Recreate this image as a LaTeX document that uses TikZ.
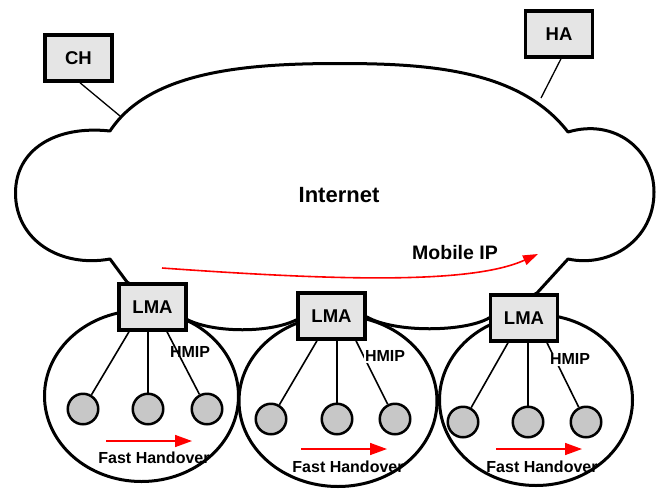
\documentclass[tikz,border=0pt]{standalone}
\usepackage{fontspec}
\setmainfont{Liberation Sans}
\usetikzlibrary{arrows.meta}
\begin{document}
\begin{tikzpicture}[x=1pt, y=-1pt,
    agent/.style={rectangle, draw, line width=3.5pt, fill=black!10, minimum width=67pt, minimum height=46pt, font=\fontsize{18.5}{20}\selectfont\bfseries},
    host/.style={circle, draw, line width=2.5pt, fill=black!22, minimum size=30.5pt, inner sep=0pt},
    cell/.style={draw, line width=3pt},
    cloudline/.style={draw, line width=3pt, line join=round},
    link/.style={line width=1.6pt},
    lbl/.style={font=\fontsize{16}{18}\selectfont\bfseries, inner sep=1pt},
    redarrow/.style={draw=red, line width=1.6pt, -{Triangle[length=17pt, width=12pt]}}
]
    \useasboundingbox (0,0) rectangle (656,491);

    % Internet cloud
    \draw[cloudline] (127,282) -- (110,259)
        .. controls (60,268) and (15.5,240) .. (15.5,193)
        .. controls (15.5,150) and (55,125) .. (110,131)
        .. controls (150,70) and (250,63.5) .. (340,63.5)
        .. controls (430,63.5) and (520,70) .. (568,132)
        .. controls (615,118) and (654,150) .. (654,192)
        .. controls (654,240) and (610,268) .. (568,259)
        -- (537,293) -- (489,318)
        .. controls (465,332) and (395,333) .. (367,317)
        -- (296,320)
        .. controls (270,333) and (215,333) .. (188,320)
        -- cycle;
    \node[font=\fontsize{22}{24}\selectfont\bfseries] (internet) at (339,195) {Internet};

    % Cells
    \draw[cell] (141.5,396) ellipse [x radius=97pt, y radius=85.5pt];
    \draw[cell] (338,401) ellipse [x radius=99pt, y radius=85.5pt];
    \draw[cell] (536,400) ellipse [x radius=96.5pt, y radius=85.5pt];

    % Agents
    \node[agent] (ch) at (78.5,58) {CH};
    \node[agent] (ha) at (559,34) {HA};
    \node[agent] (lma1) at (152.5,307) {LMA};
    \node[agent] (lma2) at (331.5,316) {LMA};
    \node[agent] (lma3) at (524,318) {LMA};

    \coordinate (chlink) at (120,116);
    \coordinate (halink) at (541,98);
    \draw[line width=1.3pt] ([xshift=1.5pt]ch.south) -- (chlink);
    \draw[line width=1.3pt] ([xshift=2pt]ha.south) -- (halink);

    % Mobile nodes
    \node[host] (m11) at (83,409) {};
    \node[host] (m12) at (148,409) {};
    \node[host] (m13) at (207,409) {};
    \node[host] (m21) at (271,419) {};
    \node[host] (m22) at (337,419) {};
    \node[host] (m23) at (395,419) {};
    \node[host] (m31) at (463,422) {};
    \node[host] (m32) at (528,422) {};
    \node[host] (m33) at (586,422) {};

    \draw[link] ([xshift=-23.5pt]lma1.south) -- (m11);
    \draw[link] ([xshift=-4.5pt]lma1.south) -- (m12);
    \draw[link] ([xshift=14.5pt]lma1.south) -- (m13);
    \draw[link] ([xshift=-14.5pt]lma2.south) -- (m21);
    \draw[link] ([xshift=5.5pt]lma2.south) -- (m22);
    \draw[link] ([xshift=24.5pt]lma2.south) -- (m23);
    \draw[link] ([xshift=-16pt]lma3.south) -- (m31);
    \draw[link] ([xshift=4pt]lma3.south) -- (m32);
    \draw[link] ([xshift=23pt]lma3.south) -- (m33);

    \node[lbl] (hmip1) at (190,352) {HMIP};
    \node[lbl, fill=white] (hmip2) at (385,356) {HMIP};
    \node[lbl, fill=white] (hmip3) at (570,359) {HMIP};

    % Mobile IP
    \coordinate (mipstart) at (162,268);
    \coordinate (mipend) at (538,254);
    \draw[redarrow, -{Triangle[length=15pt, width=10pt]}] (mipstart) .. controls (330,280) and (470,285) .. (mipend);
    \node[font=\fontsize{19.5}{21}\selectfont\bfseries] (mip) at (455,253) {Mobile IP};

    % Fast Handover
    \coordinate (fh1s) at (106,441);
    \coordinate (fh1e) at (192,441);
    \coordinate (fh2s) at (301,449);
    \coordinate (fh2e) at (387,449);
    \coordinate (fh3s) at (496,449);
    \coordinate (fh3e) at (582,449);
    \draw[redarrow] (fh1s) -- (fh1e);
    \draw[redarrow] (fh2s) -- (fh2e);
    \draw[redarrow] (fh3s) -- (fh3e);
    \node[lbl] (fh1) at (154,458) {Fast Handover};
    \node[lbl] (fh2) at (348,467) {Fast Handover};
    \node[lbl] (fh3) at (542,467) {Fast Handover};
\end{tikzpicture}
\end{document}
